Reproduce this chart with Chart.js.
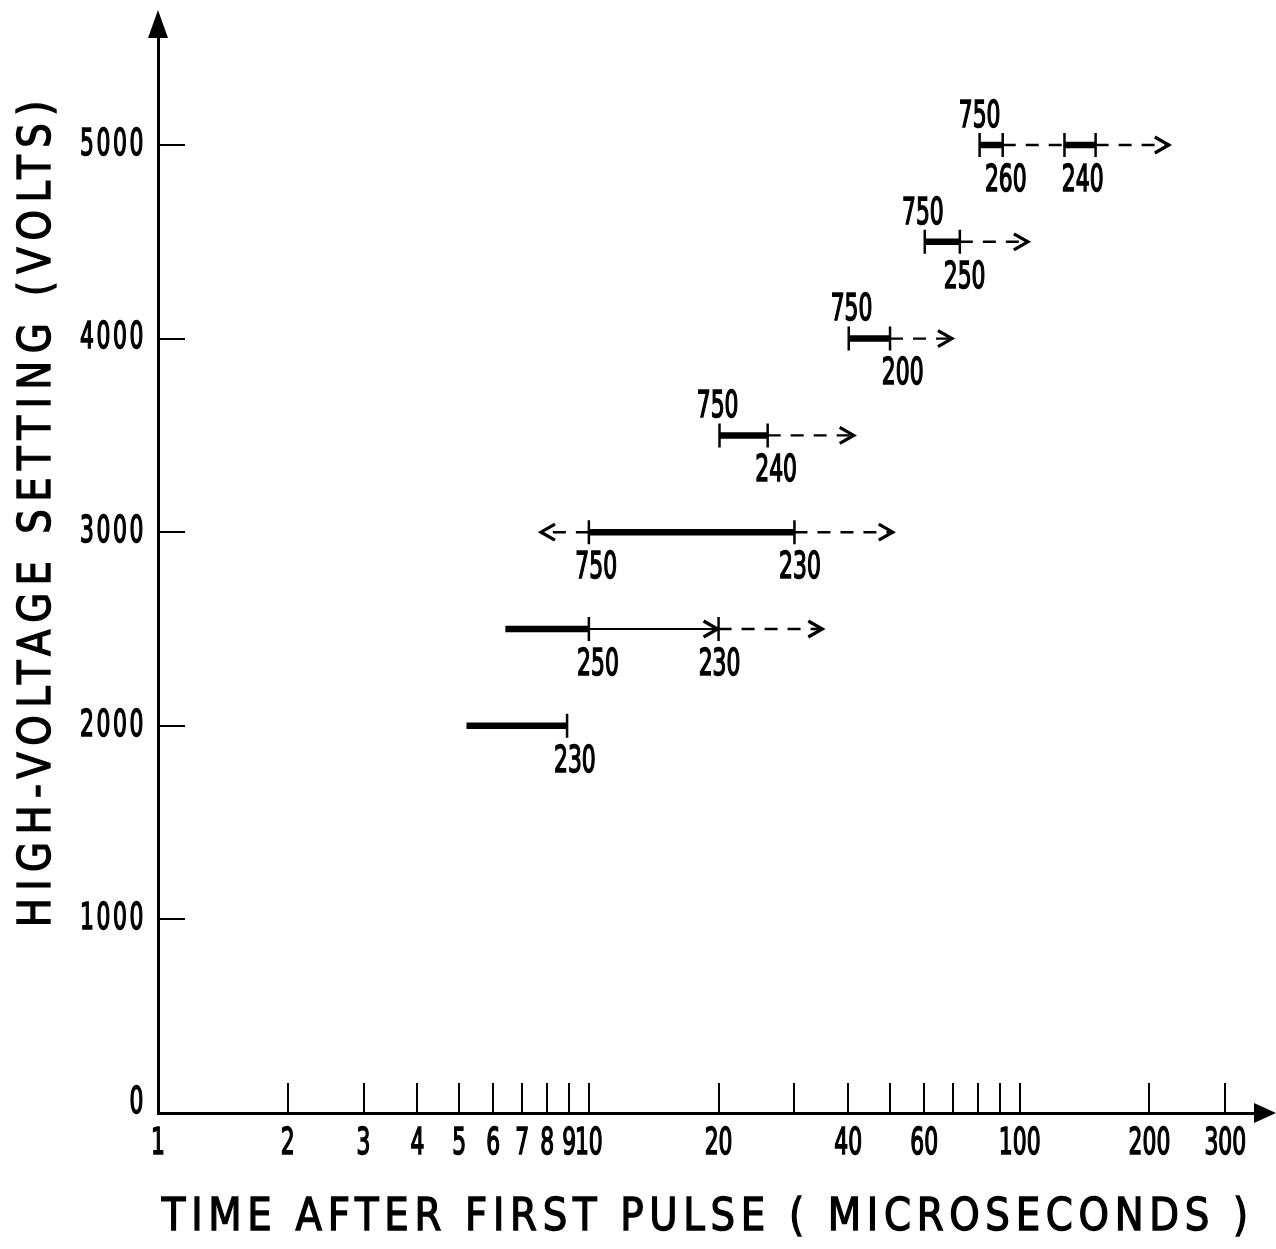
<!DOCTYPE html>
<html>
<head>
<meta charset="utf-8">
<script src="https://cdn.jsdelivr.net/npm/chart.js@4"></script>
<style>
  body { margin: 0; background: #fff; }
  #wrap { width: 1276px; height: 1249px; }
</style>
</head>
<body>
<div id="wrap"><canvas id="chart" width="1276" height="1249"></canvas></div>
<script>
// axis ticks
const xTicks = [1, 2, 3, 4, 5, 6, 7, 8, 9, 10, 20, 30, 40, 50, 60, 70, 80, 90, 100, 200, 300];
const xTickLabels = [1, 2, 3, 4, 5, 6, 7, 8, 9, 10, 20, 40, 60, 100, 200, 300];
const yTicks = [0, 1000, 2000, 3000, 4000, 5000];

// heavy bars: level (volts), start, end (microseconds)
const heavyLevel = [2000, 2500, 3000, 3500, 4000, 4500, 5000, 5000];
const heavyStart = [5.2, 6.4, 10, 20.1, 40.1, 60.2, 80.7, 127];
const heavyEnd   = [8.9, 10, 30, 26, 50, 72.6, 91.3, 150];

// thin solid arrow
const thinLevel = [2500];
const thinStart = [10];
const thinEnd   = [20];

// dashed extensions
const dashLevel = [2500, 3000, 3000, 3500, 4000, 4500, 5000, 5000];
const dashStart = [20, 10, 30, 26, 50, 72.6, 91.3, 150];
const dashEnd   = [35, 7.7, 51, 41.4, 70, 105, 127, 223];
const dashArrow = [true, true, true, true, true, true, false, true];

// small end marks
const markX     = [8.9, 10, 20, 10, 30, 20.1, 26, 40.1, 50, 60.2, 72.6, 80.7, 91.3, 127, 150];
const markLevel = [2000, 2500, 2500, 3000, 3000, 3500, 3500, 4000, 4000, 4500, 4500, 5000, 5000, 5000, 5000];

// numbers written next to the bars
const noteText  = ['230', '250', '230', '750', '230', '750', '240', '750', '200', '750', '250', '750', '260', '240'];
const noteX     = [9.28, 10.5, 20.1, 10.4, 30.9, 19.9, 27.2, 40.7, 53.5, 59.6, 74.5, 80.7, 92.8, 140];
const noteLevel = [2000, 2500, 2500, 3000, 3000, 3500, 3500, 4000, 4000, 4500, 4500, 5000, 5000, 5000];
const noteAbove = [false, false, false, false, false, true, false, true, false, true, false, true, false, false];

const narrowFont = '38px "DejaVu Sans Condensed"';

const datasets = [];
heavyLevel.forEach((lv, i) => {
  datasets.push({
    data: [{x: heavyStart[i], y: lv}, {x: heavyEnd[i], y: lv}],
    showLine: true, borderColor: '#000', borderWidth: 6.5, pointRadius: 0, borderCapStyle: 'butt'
  });
});
thinLevel.forEach((lv, i) => {
  datasets.push({
    data: [{x: thinStart[i], y: lv}, {x: thinEnd[i], y: lv}],
    showLine: true, borderColor: '#000', borderWidth: 2, pointRadius: 0, arrow: true
  });
});
dashLevel.forEach((lv, i) => {
  datasets.push({
    data: [{x: dashStart[i], y: lv}, {x: dashEnd[i], y: lv}],
    showLine: true, borderColor: '#000', borderWidth: 2.4, borderDash: [13, 10],
    pointRadius: 0, arrow: dashArrow[i]
  });
});
datasets.push({
  data: markX.map((x, i) => ({x: x, y: markLevel[i]})),
  showLine: false, pointStyle: 'line', rotation: 90, pointRadius: 12,
  borderColor: '#000', borderWidth: 2.5
});

// squeezed lettering like the hand-lettered original
function squeezed(ctx, text, x, y, align, spacing) {
  ctx.save();
  ctx.translate(x, y);
  ctx.scale(0.64, 1);
  ctx.font = narrowFont;
  ctx.letterSpacing = (spacing || 0) + 'px';
  ctx.textAlign = align;
  ctx.textBaseline = 'middle';
  ctx.lineWidth = 1.6;
  ctx.strokeStyle = '#000';
  ctx.fillText(text, 0, 0);
  ctx.strokeText(text, 0, 0);
  ctx.restore();
}

const decorations = {
  id: 'decorations',
  afterDatasetsDraw(chart) {
    const ctx = chart.ctx;
    const xs = chart.scales.x, ys = chart.scales.y;
    ctx.save();
    ctx.strokeStyle = '#000';
    ctx.fillStyle = '#000';
    ctx.lineWidth = 3.2;
    ctx.lineJoin = 'miter';
    ctx.setLineDash([]);
    chart.data.datasets.forEach((ds, i) => {
      if (!ds.arrow) return;
      const pts = chart.getDatasetMeta(i).data;
      const a = pts[pts.length - 2], b = pts[pts.length - 1];
      const ang = Math.atan2(b.y - a.y, b.x - a.x);
      ctx.save();
      ctx.translate(b.x, b.y);
      ctx.rotate(ang);
      ctx.beginPath();
      ctx.moveTo(-15, -8);
      ctx.lineTo(-1, 0);
      ctx.lineTo(-15, 8);
      ctx.stroke();
      ctx.restore();
    });
    noteText.forEach((t, i) => {
      const px = xs.getPixelForValue(noteX[i]);
      const py = ys.getPixelForValue(noteLevel[i]) + (noteAbove[i] ? -28 : 36);
      squeezed(ctx, t, px, py, 'center', 0);
    });
    ctx.restore();
  },
  afterDraw(chart) {
    const ctx = chart.ctx;
    const area = chart.chartArea;
    const xs = chart.scales.x, ys = chart.scales.y;
    ctx.save();
    ctx.fillStyle = '#000';
    // tick labels, placed by the scales
    xs.ticks.forEach(t => {
      if (!xTickLabels.includes(t.value)) return;
      squeezed(ctx, String(t.value), xs.getPixelForValue(t.value), area.bottom + 31, 'center', 0);
    });
    ys.ticks.forEach(t => {
      const py = ys.getPixelForValue(t.value) - (t.value === 0 ? 10 : 0);
      squeezed(ctx, String(t.value), area.left - 12, py, 'right', 4);
    });
    // axis arrowheads
    ctx.beginPath();
    ctx.moveTo(area.left, 10);
    ctx.lineTo(area.left - 10, 38);
    ctx.lineTo(area.left + 10, 38);
    ctx.closePath();
    ctx.fill();
    ctx.beginPath();
    ctx.moveTo(1276, area.bottom);
    ctx.lineTo(1254, area.bottom - 10);
    ctx.lineTo(1254, area.bottom + 10);
    ctx.closePath();
    ctx.fill();
    // axis titles
    ctx.font = '44px "DejaVu Sans"';
    ctx.textAlign = 'center';
    ctx.textBaseline = 'middle';
    ctx.strokeStyle = '#000';
    ctx.lineWidth = 1.4;
    const drawSpaced = (text, target, x, y, rot) => {
      const sx = 0.88;
      ctx.letterSpacing = '0px';
      const w = ctx.measureText(text).width;
      const sp = (target / sx - w) / text.length;
      ctx.letterSpacing = sp + 'px';
      ctx.save();
      ctx.translate(x, y);
      ctx.rotate(rot);
      ctx.scale(sx, 1);
      ctx.fillText(text, sp / 2, 0);
      ctx.strokeText(text, sp / 2, 0);
      ctx.restore();
      ctx.letterSpacing = '0px';
    };
    drawSpaced('TIME AFTER FIRST PULSE ( MICROSECONDS )', 1092, 705, 1219, 0);
    drawSpaced('HIGH-VOLTAGE SETTING (VOLTS)', 834, 39, 514, -Math.PI / 2);
    ctx.restore();
  }
};

new Chart(document.getElementById('chart'), {
  type: 'scatter',
  data: { datasets: datasets },
  options: {
    responsive: false,
    animation: false,
    layout: { padding: { top: 30, right: 14, left: 0, bottom: 0 } },
    plugins: { legend: { display: false }, tooltip: { enabled: false } },
    scales: {
      x: {
        type: 'logarithmic',
        min: 1,
        max: 364,
        afterBuildTicks: (s) => { s.ticks = xTicks.map(v => ({value: v})); },
        afterFit: (s) => { s.height = 136; s.paddingLeft = 0; s.paddingRight = 0; },
        grid: { display: true, drawOnChartArea: false, drawTicks: true, tickLength: -30, lineWidth: 2, color: '#000' },
        border: { display: true, width: 3, color: '#000' },
        ticks: { display: false, autoSkip: false }
      },
      y: {
        min: 0,
        max: 5594,
        afterBuildTicks: (s) => { s.ticks = yTicks.map(v => ({value: v})); },
        afterFit: (s) => { s.width = 158; s.paddingTop = 0; s.paddingBottom = 0; },
        grid: { display: true, drawOnChartArea: false, drawTicks: true, tickLength: -27, lineWidth: 2, color: '#000' },
        border: { display: true, width: 3, color: '#000' },
        ticks: { display: false }
      }
    }
  },
  plugins: [decorations]
});
</script>
</body>
</html>
